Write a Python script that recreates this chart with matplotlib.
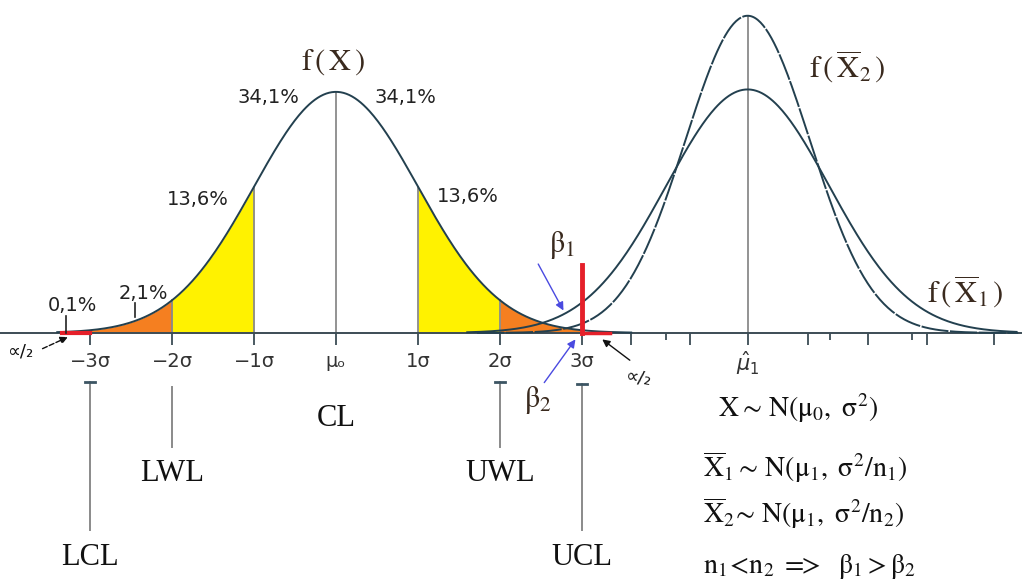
import numpy as np
import matplotlib.pyplot as plt

plt.rcParams['mathtext.fontset'] = 'stix'

# x axis in units of sigma of X, y axis is density
mu0, sd0 = 0.0, 1.0
mu1 = 5.02
sd1 = 0.99   # X-bar with n1
sd2 = 0.76   # X-bar with n2

sigma_ticks = [-3, -2, -1, 0, 1, 2, 3]
sigma_labels = ["−3σ", "−2σ", "−1σ", "μₒ", "1σ", "2σ", "3σ"]
long_ticks = [3.60, 4.32, 5.02, 5.76, 6.49, 7.21, 8.02]
short_ticks = [4.02, 6.02, 7.02]

share_labels = ["0,1%", "2,1%", "13,6%", "34,1%", "34,1%", "13,6%"]
share_xy = [(-3.22, 0.046), (-2.35, 0.066), (-1.68, 0.220),
            (-0.83, 0.389), (0.85, 0.389), (1.61, 0.225)]

limit_names = ["LCL", "LWL", "CL", "UWL", "UCL"]
limit_pos = [-3, -2, 0, 2, 3]
limit_text_y = [-0.371, -0.232, -0.141, -0.232, -0.371]
limit_line = [(-0.081, -0.326), (-0.090, -0.189), None, (-0.081, -0.189), (-0.084, -0.326)]
limit_cap = [True, False, False, True, True]

CURVE = '#23404f'
GREY = '#8a8a8a'
YELLOW = '#fff200'
ORANGE = '#f57f20'
RED = '#e5202a'
TXT = '#3a2a1e'


def pdf(x, m, s):
    return np.exp(-0.5 * ((x - m) / s) ** 2) / (s * np.sqrt(2 * np.pi))


fig = plt.figure(figsize=(10.26, 5.8), dpi=100)
ax = fig.add_axes([0, 0, 1, 1])
ax.set_xlim(-4.098, 8.415)
ax.set_ylim(-0.409, 0.551)
ax.axis('off')

# shaded bands under f(X)
for a, b, c in [(-2, -1, YELLOW), (1, 2, YELLOW), (-3, -2, ORANGE), (2, 3, ORANGE)]:
    xs = np.linspace(a, b, 100)
    ax.fill_between(xs, 0, pdf(xs, mu0, sd0), color=c, lw=0, zorder=1)

# grey verticals at the sigma marks and the means
for s in [-2, -1, 0, 1, 2]:
    ax.plot([s, s], [0, pdf(s, mu0, sd0)], color=GREY, lw=1.3, zorder=2)
ax.plot([mu1, mu1], [0, pdf(mu1, mu1, sd2)], color=GREY, lw=1.3, zorder=2)

# baseline and ticks
ax.plot([-4.098, 8.36], [0, 0], color='#3c4c55', lw=1.4, zorder=3)
ax.vlines(sigma_ticks + long_ticks, -0.02, 0, color='#3c4c55', lw=1.3, zorder=3)
ax.vlines(short_ticks, -0.012, 0, color='#3c4c55', lw=1.3, zorder=3)

# densities
x0 = np.linspace(-3.4, 3.6, 400)
ax.plot(x0, pdf(x0, mu0, sd0), color=CURVE, lw=1.4, zorder=4)
x1 = np.linspace(1.6, 8.3, 400)
ax.plot(x1, pdf(x1, mu1, sd1), color=CURVE, lw=1.4, zorder=4)
x2 = np.linspace(mu1 - 3.3, mu1 + 3.3, 400)
ax.plot(x2, pdf(x2, mu1, sd2), color=CURVE, lw=1.4, ls=(0, (14, 0.8)), zorder=4)

# alpha/2 regions and the upper control limit
ax.plot([-3.34, -3.0], [0, 0], color=RED, lw=3, zorder=5)
ax.plot([3.0, 3.34], [0, 0], color=RED, lw=2.5, zorder=5)
ax.plot([3.0, 3.0], [0, 0.113], color=RED, lw=3.5, zorder=5)

# axis labels
for s, lab in zip(sigma_ticks, sigma_labels):
    ax.text(s, -0.048, lab, ha='center', va='center', fontsize=14, color='#333333')
ax.text(mu1, -0.05, r'$\hat{\mu}_1$', ha='center', va='center', fontsize=15,
        color='#333333', math_fontfamily='dejavusans')

# percentage labels with small leader lines
for (tx, ty), lab in zip(share_xy, share_labels):
    ax.text(tx, ty, lab, ha='center', va='center', fontsize=14, color='#222222')
ax.plot([-3.29, -3.29], [0.028, 0], color='#222222', lw=1.2, zorder=5)
ax.plot([-2.45, -2.45], [0.05, 0.026], color='#222222', lw=1.2, zorder=5)

# curve names
ax.text(-0.04, 0.449, r'$\mathrm{f\,(\,X\,)}$', ha='center', va='center', fontsize=22, color=TXT)
ax.text(6.24, 0.440, r'$\mathrm{f\,(\,}\overline{\mathrm{X}}_2\mathrm{\,)}$', ha='center', va='center',
        fontsize=22, color=TXT)
ax.text(7.67, 0.068, r'$\mathrm{f\,(\,}\overline{\mathrm{X}}_1\mathrm{\,)}$', ha='center', va='center',
        fontsize=22, color=TXT)

# beta arrows
ax.text(2.76, 0.146, r'$\mathrm{\beta}_1$', ha='center', va='center', fontsize=22, color=TXT)
ax.text(2.46, -0.111, r'$\mathrm{\beta}_2$', ha='center', va='center', fontsize=22, color=TXT)
ax.annotate('', xy=(2.79, 0.033), xytext=(2.45, 0.118),
            arrowprops=dict(arrowstyle='-|>', color='#4a4ae0', lw=1, mutation_scale=12))
ax.annotate('', xy=(2.94, -0.007), xytext=(2.52, -0.086),
            arrowprops=dict(arrowstyle='-|>', color='#4a4ae0', lw=1, mutation_scale=12))

# alpha/2 pointers
ax.text(-3.85, -0.031, '∝/₂', ha='center', va='center', fontsize=13, color='#111111')
ax.text(3.68, -0.075, '∝/₂', ha='center', va='center', fontsize=13, color='#111111', rotation=-10)
ax.annotate('', xy=(-3.24, -0.005), xytext=(-3.61, -0.028),
            arrowprops=dict(arrowstyle='-|>', color='#111111', lw=1, ls='--', mutation_scale=11))
ax.annotate('', xy=(3.22, -0.008), xytext=(3.61, -0.048),
            arrowprops=dict(arrowstyle='-|>', color='#111111', lw=1, mutation_scale=11))

# control limits below the axis
for pos, name, ty, ln, cap in zip(limit_pos, limit_names, limit_text_y, limit_line, limit_cap):
    ax.text(pos, ty, name, ha='center', va='center', fontsize=22,
            family='Liberation Serif', color='#111111')
    if ln is not None:
        ax.plot([pos, pos], ln, color=GREY, lw=1.4)
        if cap:
            ax.plot([pos - 0.06, pos + 0.06], [ln[0], ln[0]], color='#3c5563', lw=2)

# distribution notes
notes = [
    (4.66, -0.124, r'$\mathrm{X \sim\, N(μ_0,\ σ^2)}$'),
    (4.47, -0.222, r'$\mathrm{\overline{X}_1 \sim\, N(μ_1,\ σ^2/n_1)}$'),
    (4.47, -0.298, r'$\mathrm{\overline{X}_2\!\sim\, N(μ_1,\ σ^2/n_2)}$'),
    (4.47, -0.387, r'$\mathrm{n_1\!<\!n_2}\ {=}\!\!\!{>}\ \ \mathrm{β_1 > β_2}$'),
]
for tx, ty, s in notes:
    ax.text(tx, ty, s, ha='left', va='center', fontsize=20, color='#111111')

fig.savefig('out.png', dpi=100)
